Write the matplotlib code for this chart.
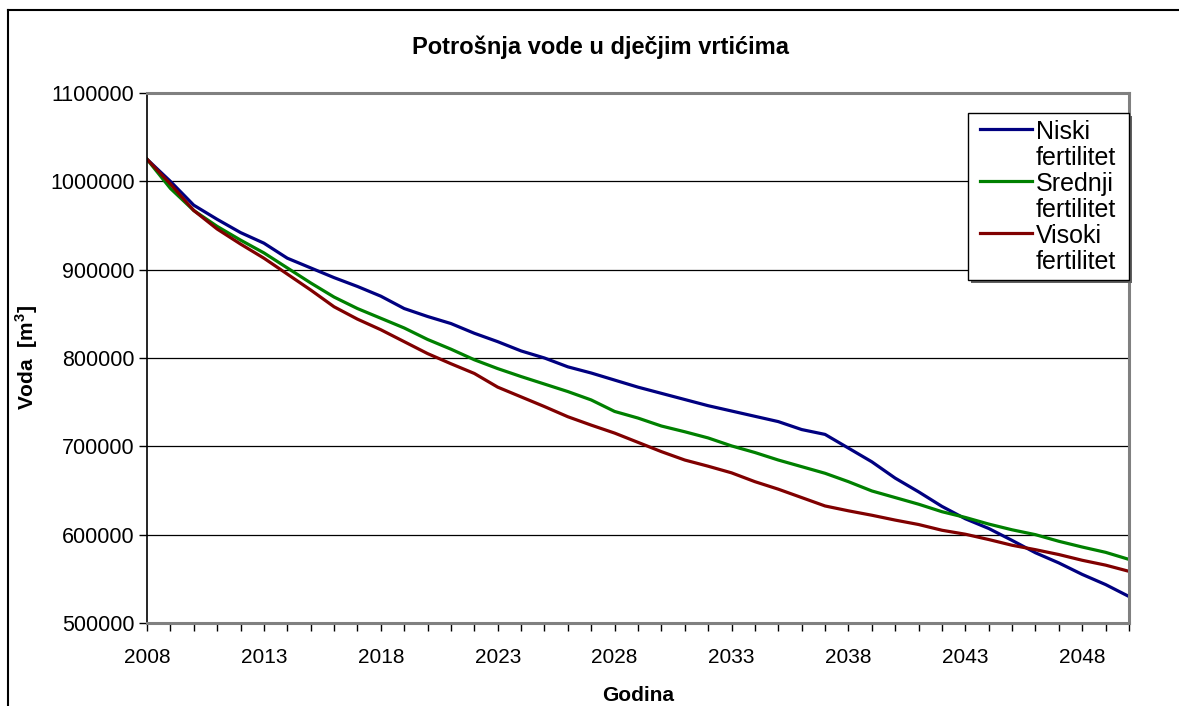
import matplotlib
matplotlib.use('Agg')
import matplotlib.pyplot as plt
from matplotlib.lines import Line2D
from matplotlib.patches import Rectangle

plt.rcParams['font.family'] = ['Liberation Sans', 'DejaVu Sans']

# podaci (procjena s grafa)
godine = list(range(2008, 2051))
niski = [1025000, 1000000, 973000, 957000, 942000, 930000, 913000, 902000, 891000, 881000,
         870000, 856000, 847000, 839000, 828000, 818500, 808000, 800000, 790000, 783000,
         775000, 767000, 760000, 753000, 746000, 740000, 734000, 728000, 719000, 713500,
         698000, 682500, 664000, 648500, 632000, 618000, 607000, 593500, 579500, 568000,
         555000, 543500, 530000]
srednji = [1025000, 992000, 967000, 949000, 933500, 919000, 902000, 885000, 869000, 856000,
           845000, 834000, 821000, 810000, 798000, 788000, 779000, 770500, 762000, 752500,
           739500, 732000, 723000, 716500, 709500, 700500, 693000, 684500, 677000, 669500,
           660000, 649500, 642000, 634500, 626000, 619500, 612000, 605500, 600000, 592500,
           586000, 580000, 572000]
visoki = [1025000, 997000, 967000, 946000, 929000, 913000, 895000, 877000, 858000, 844000,
          832000, 818500, 805000, 793500, 782500, 767000, 756000, 745000, 733500, 724000,
          715000, 704500, 694000, 684500, 677500, 670000, 660000, 651500, 642000, 632500,
          627000, 622000, 616500, 611500, 605000, 600500, 594500, 588000, 583000, 577500,
          571000, 565500, 558500]
serije = [('Niski', 'fertilitet', niski, '#000080'),
          ('Srednji', 'fertilitet', srednji, '#008000'),
          ('Visoki', 'fertilitet', visoki, '#800000')]
y_ticks = [500000, 600000, 700000, 800000, 900000, 1000000, 1100000]

W, H = 1179, 706
fig = plt.figure(figsize=(W / 100, H / 100), dpi=100)
ax = fig.add_axes([147/W, 1 - 623/H, (1129-147)/W, (623-93)/H])

for r1, r2, vals, c in serije:
    ax.plot(godine, vals, color=c, lw=2.3)

ax.set_xlim(godine[0], godine[-1])
ax.set_ylim(y_ticks[0], y_ticks[-1])
ax.set_yticks(y_ticks)
ax.set_yticklabels([str(v) for v in y_ticks])
ax.set_xticks(godine)
ax.set_xticklabels([str(g) if (g - godine[0]) % 5 == 0 else '' for g in godine])
ax.tick_params(axis='both', direction='out', length=6, width=1, color='black', pad=3)
ax.tick_params(axis='y', labelsize=15.5)
ax.tick_params(axis='x', labelsize=15, pad=12)
ax.grid(True, axis='y', color='black', lw=0.9)
ax.set_axisbelow(True)

for s in ['top', 'right', 'bottom']:
    ax.spines[s].set_color('#808080')
    ax.spines[s].set_linewidth(2.2)
ax.spines['left'].set_color('black')
ax.spines['left'].set_linewidth(1.2)

fig.text(600/W, 1 - 47/H, 'Potrošnja vode u dječjim vrtićima', fontsize=17,
         fontweight='bold', ha='center', va='center')
ax.set_xlabel('Godina', fontsize=15, fontweight='bold', labelpad=14)
ax.set_ylabel('Voda  [m$^\\mathregular{3}$]', fontsize=15, fontweight='bold')
ax.yaxis.set_label_coords((40 - 147) / (1129 - 147), 0.5)

# legenda (ručno, kao u Excelu: oznaka uz prvi red teksta)
def fx(px):
    return px / W

def fy(py):
    return 1 - py / H

lx0, lx1, ly0, ly1 = 968, 1129, 113, 280
fig.add_artist(Rectangle((fx(lx0 + 3), fy(ly1 + 3)), fx(lx1 - lx0), (ly1 - ly0) / H,
                         facecolor='#606060', edgecolor='none', zorder=5))
fig.add_artist(Rectangle((fx(lx0), fy(ly1)), fx(lx1 - lx0), (ly1 - ly0) / H,
                         facecolor='white', edgecolor='black', lw=1.0, zorder=6))
red = 26
y0 = 132
for i, (r1, r2, vals, c) in enumerate(serije):
    yc = y0 + i * 2 * red
    fig.add_artist(Line2D([fx(980), fx(1032)], [fy(yc - 3), fy(yc - 3)], color=c, lw=2.3, zorder=7))
    fig.text(fx(1036), fy(yc), r1, fontsize=18, ha='left', va='center', zorder=7)
    fig.text(fx(1036), fy(yc + red), r2, fontsize=18, ha='left', va='center', zorder=7)

# okvir grafikona
fig.add_artist(Line2D([8/W, 8/W], [0, 1 - 10/H], color='black', lw=1.5))
fig.add_artist(Line2D([8/W, 1], [1 - 10/H, 1 - 10/H], color='black', lw=1.5))

plt.savefig('out.png', dpi=100, facecolor='white')
